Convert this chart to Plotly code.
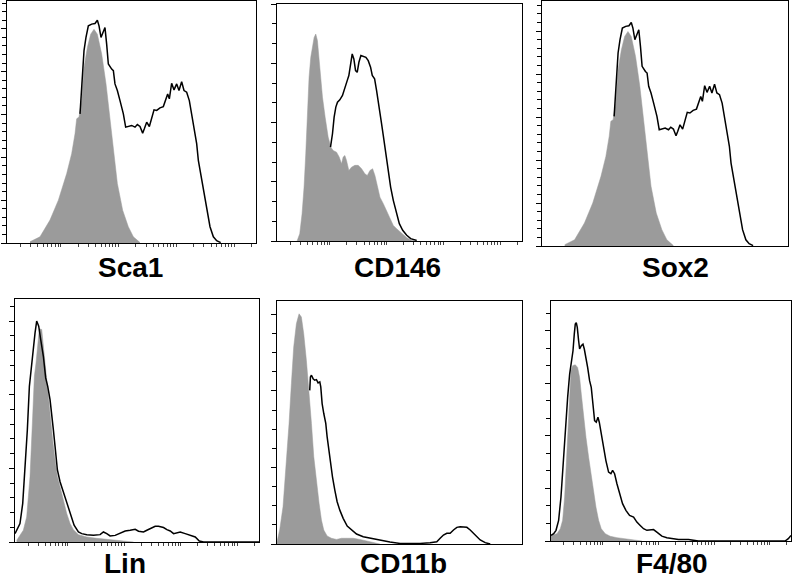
import plotly.graph_objects as go
import numpy as np

# ---------------- data (x in log10 fluorescence units, y = cell counts) ----------------
panel_labels = ["Sca1", "CD146", "Sox2", "Lin", "CD11b", "F4/80"]

sca1_iso_x = [1.468, 1.641, 1.814, 1.959, 2.103, 2.189, 2.247, 2.276, 2.316, 2.362, 2.403, 2.461, 2.518, 2.576,
              2.634, 2.709, 2.784, 2.853, 2.911, 2.980, 3.072, 3.170, 3.257, 3.372]
sca1_iso_y = [0.6, 2.9, 10.7, 20.0, 32.4, 41.7, 51.0, 58.0, 58.8, 66.5, 82.0, 91.3, 97.5, 99.8,
              97.5, 88.2, 74.3, 58.8, 43.3, 27.8, 15.3, 7.6, 2.9, 0.2]
sca1_x = [2.334, 2.362, 2.403, 2.437, 2.478, 2.536, 2.593, 2.634, 2.663, 2.697, 2.738, 2.766, 2.795, 2.824,
          2.882, 2.911, 2.939, 2.980, 3.026, 3.084, 3.124, 3.170, 3.228, 3.286, 3.326, 3.372, 3.418, 3.447,
          3.488, 3.534, 3.574, 3.615, 3.661, 3.718, 3.776, 3.817, 3.851, 3.880, 3.920, 3.961, 4.007, 4.047,
          4.093, 4.134, 4.180, 4.226, 4.267, 4.307, 4.353, 4.382, 4.411, 4.457, 4.497, 4.538, 4.584, 4.642,
          4.699, 4.769]
sca1_y = [60.3, 74.3, 89.8, 96.0, 101.4, 102.2, 102.5, 104.0, 101.4, 96.0, 98.3, 100.6, 92.9, 83.6,
          81.2, 80.5, 74.3, 71.2, 66.5, 60.3, 54.1, 54.4, 54.9, 54.1, 55.3, 54.4, 51.3, 53.3,
          56.4, 54.4, 58.8, 62.2, 61.9, 63.1, 63.7, 67.3, 69.6, 67.3, 74.6, 71.5, 74.3, 71.2,
          75.3, 71.2, 70.4, 66.5, 60.3, 54.9, 46.4, 38.6, 34.0, 26.2, 20.0, 13.8, 7.6, 2.9,
          1.1, 0.2]

cd146_iso_x = [1.423, 1.470, 1.511, 1.546, 1.576, 1.605, 1.634, 1.664, 1.693, 1.723, 1.752, 1.781, 1.823, 1.870,
               1.917, 1.970, 2.017, 2.058, 2.117, 2.164, 2.205, 2.234, 2.264, 2.293, 2.334, 2.381, 2.440, 2.499,
               2.558, 2.616, 2.658, 2.705, 2.752, 2.793, 2.834, 2.881, 2.940, 2.999, 3.057, 3.116, 3.175, 3.234,
               3.293, 3.352, 3.440, 3.528]
cd146_iso_y = [0.0, 3.7, 13.8, 27.3, 44.2, 66.1, 82.9, 93.0, 98.1, 103.1, 104.8, 101.5, 88.0, 72.8,
               62.7, 52.6, 47.5, 45.8, 45.0, 42.5, 39.1, 42.5, 43.3, 40.8, 35.7, 37.4, 38.3, 38.3,
               36.6, 34.0, 33.2, 35.7, 36.6, 33.2, 28.1, 22.2, 18.9, 15.5, 11.3, 7.9, 6.2, 4.6,
               2.9, 1.7, 0.3, 0.0]
cd146_x = [2.011, 2.046, 2.075, 2.105, 2.134, 2.175, 2.222, 2.264, 2.305, 2.334, 2.364, 2.393, 2.422, 2.452,
           2.481, 2.511, 2.546, 2.587, 2.634, 2.675, 2.716, 2.746, 2.787, 2.822, 2.852, 2.881, 2.910, 2.940,
           2.969, 2.999, 3.028, 3.069, 3.116, 3.163, 3.222, 3.281, 3.352, 3.422, 3.528]
cd146_y = [47.5, 54.3, 62.7, 67.8, 70.3, 71.5, 73.7, 77.0, 81.2, 83.8, 88.8, 94.7, 92.2, 86.3,
           85.4, 90.5, 93.9, 93.4, 93.0, 91.3, 88.0, 83.8, 82.1, 76.2, 71.1, 65.2, 59.3, 53.4,
           47.5, 40.8, 34.0, 27.3, 20.6, 14.7, 8.8, 5.4, 2.9, 1.2, 0.3]

sox2_iso_x = list(sca1_iso_x)
sox2_iso_y = list(sca1_iso_y)
sox2_x = list(sca1_x)
sox2_y = list(sca1_y)

lin_iso_x = [1.099, 1.158, 1.217, 1.276, 1.335, 1.377, 1.412, 1.441, 1.471, 1.500, 1.542, 1.571, 1.612, 1.660,
             1.701, 1.736, 1.778, 1.819, 1.866, 1.925, 1.984, 2.043, 2.102, 2.190, 2.338, 2.515, 2.750, 2.986,
             3.163]
lin_iso_y = [1.1, 4.5, 8.0, 17.0, 44.3, 80.7, 112.5, 121.6, 135.2, 144.8, 144.3, 133.0, 112.5, 96.6,
             80.7, 69.3, 55.7, 44.3, 37.5, 28.4, 19.3, 12.5, 8.4, 5.0, 3.4, 2.5, 1.4, 0.7,
             0.0]
lin_x = [1.070, 1.099, 1.158, 1.206, 1.247, 1.288, 1.324, 1.353, 1.394, 1.424, 1.453, 1.489, 1.524, 1.571,
         1.612, 1.648, 1.689, 1.719, 1.748, 1.778, 1.819, 1.866, 1.913, 1.954, 2.002, 2.055, 2.114, 2.190,
         2.249, 2.338, 2.456, 2.573, 2.632, 2.691, 2.750, 2.839, 2.927, 3.016, 3.104, 3.193, 3.252, 3.340,
         3.399, 3.487, 3.546, 3.605, 3.694, 3.753, 3.812, 3.871, 3.930, 3.989, 4.077, 4.165, 4.254, 4.325,
         4.401, 5.380]
lin_y = [5.7, 8.0, 12.5, 26.1, 48.9, 76.1, 105.7, 117.0, 130.7, 142.0, 150.0, 146.6, 137.5, 126.1,
         111.4, 105.7, 96.6, 87.5, 76.1, 64.8, 48.9, 40.9, 35.2, 30.7, 23.9, 17.0, 11.4, 6.8,
         5.7, 5.0, 4.5, 5.0, 6.8, 5.7, 4.1, 4.5, 6.1, 7.5, 8.0, 8.6, 7.3, 6.8,
         8.0, 9.5, 10.7, 10.7, 9.8, 8.4, 7.5, 5.7, 6.1, 6.8, 5.7, 4.5, 3.4, 0.7,
         0.0, 0.0]

cd11b_iso_x = [1.070, 1.117, 1.176, 1.235, 1.282, 1.323, 1.364, 1.411, 1.458, 1.499, 1.540, 1.587, 1.634, 1.676,
               1.717, 1.764, 1.811, 1.852, 1.893, 1.952, 2.028, 2.117, 2.205, 2.293, 2.411, 2.528, 2.646, 2.763,
               2.881]
cd11b_iso_y = [1.2, 7.3, 19.5, 42.1, 63.0, 83.8, 103.0, 115.1, 120.3, 118.6, 109.9, 96.0, 80.3, 63.0,
               45.6, 31.7, 21.2, 12.5, 7.3, 4.2, 3.0, 2.4, 3.0, 3.0, 3.0, 2.4, 1.7, 0.7,
               0.0]
cd11b_x = [1.646, 1.658, 1.676, 1.705, 1.734, 1.764, 1.793, 1.823, 1.840, 1.864, 1.893, 1.928, 1.952, 1.981,
           2.011, 2.046, 2.087, 2.128, 2.175, 2.234, 2.305, 2.381, 2.469, 2.587, 2.705, 2.881, 3.057, 3.234,
           3.410, 3.587, 3.763, 3.881, 3.940, 3.998, 4.057, 4.116, 4.175, 4.234, 4.292, 4.351, 4.410, 4.469,
           4.528, 4.587, 4.645, 4.733, 4.821]
cd11b_y = [80.3, 87.3, 88.2, 86.4, 85.6, 85.9, 84.2, 84.7, 82.1, 73.4, 68.2, 63.0, 56.0, 49.0,
           42.1, 35.1, 28.2, 22.1, 17.7, 13.4, 9.4, 7.3, 5.2, 3.8, 3.0, 2.1, 1.0, 0.3,
           0.3, 0.3, 0.7, 1.2, 3.0, 4.7, 5.6, 5.6, 7.3, 8.7, 9.0, 9.0, 8.7, 7.3,
           5.6, 3.8, 2.1, 0.7, 0.0]

f480_iso_x = [1.070, 1.178, 1.237, 1.279, 1.315, 1.345, 1.375, 1.399, 1.429, 1.459, 1.506, 1.548, 1.584, 1.614,
              1.656, 1.698, 1.746, 1.793, 1.835, 1.877, 1.925, 1.973, 2.044, 2.134, 2.254, 2.403, 2.523, 2.612,
              2.702]
f480_iso_y = [3.2, 4.2, 7.0, 11.8, 25.1, 44.1, 66.8, 82.0, 97.2, 100.1, 100.6, 99.1, 93.4, 83.9,
              70.6, 59.2, 47.8, 36.5, 27.0, 19.4, 11.8, 7.0, 4.2, 2.7, 1.9, 1.3, 0.9, 0.4,
              0.0]
f480_x = [1.070, 1.118, 1.160, 1.207, 1.249, 1.285, 1.327, 1.369, 1.405, 1.435, 1.465, 1.488, 1.506, 1.524,
          1.542, 1.566, 1.584, 1.614, 1.644, 1.668, 1.698, 1.728, 1.763, 1.793, 1.823, 1.853, 1.883, 1.913,
          1.937, 1.973, 2.015, 2.056, 2.104, 2.146, 2.176, 2.212, 2.254, 2.301, 2.355, 2.415, 2.481, 2.553,
          2.612, 2.672, 2.732, 2.792, 2.851, 2.911, 2.971, 3.061, 3.150, 3.240, 3.360, 3.539, 3.718, 5.273,
          5.332, 5.380]
f480_y = [3.2, 4.2, 6.1, 11.8, 25.1, 44.1, 63.0, 82.0, 95.3, 102.0, 108.6, 118.1, 123.8, 124.7,
          121.9, 114.3, 109.6, 111.5, 112.4, 109.6, 104.8, 99.1, 91.5, 87.7, 78.2, 68.7, 67.8, 70.6,
          67.8, 61.1, 53.5, 45.9, 39.3, 38.4, 40.3, 38.4, 32.7, 27.0, 21.3, 17.5, 14.6, 13.7,
          10.8, 8.9, 7.0, 6.1, 6.1, 6.5, 5.1, 2.8, 1.9, 1.3, 0.9, 0.8, 0.0, 0.0,
          1.3, 3.2]

isotype_x = [sca1_iso_x, cd146_iso_x, sox2_iso_x, lin_iso_x, cd11b_iso_x, f480_iso_x]
isotype_y = [sca1_iso_y, cd146_iso_y, sox2_iso_y, lin_iso_y, cd11b_iso_y, f480_iso_y]
stain_x = [sca1_x, cd146_x, sox2_x, lin_x, cd11b_x, f480_x]
stain_y = [sca1_y, cd146_y, sox2_y, lin_y, cd11b_y, f480_y]

# ---------------- layout configuration ----------------
W, H = 792, 578
# panel boxes in pixels: (left, right, top, bottom)
boxes = [(7, 256, 1, 243), (277, 522, 4, 241), (542, 788, 1, 246),
         (15, 259, 299, 542), (277, 522, 301, 544), (551, 791, 301, 541)]
y_max = [113, 120, 114, 165, 127, 137]
y_dtick = [20, 30, 20, 50, 40, 30]
y_minor = [4, 10, 4, 10, 10, 10]
show_xticks = [True, True, False, True, False, True]
label_pos = [(130, 267), (397, 267), (675, 267), (125, 563), (403, 563), (672, 563)]

log_range = [1.07, 5.38]
x_tickvals = [m * 10 ** k for k in range(1, 6) for m in range(1, 10)
              if log_range[0] <= np.log10(m * 10 ** k) <= log_range[1]]

fig = go.Figure()
layout = dict(width=W, height=H, margin=dict(l=0, r=0, t=0, b=0),
              paper_bgcolor="white", plot_bgcolor="white", showlegend=False)
annotations = []

for i in range(6):
    sfx = "" if i == 0 else str(i + 1)
    xa, ya = "x" + sfx, "y" + sfx
    fig.add_trace(go.Scatter(x=10 ** np.array(isotype_x[i]), y=isotype_y[i], xaxis=xa, yaxis=ya,
                             mode="lines", fill="tozeroy", fillcolor="#9b9b9b",
                             line=dict(color="#9b9b9b", width=0.5), hoverinfo="skip"))
    fig.add_trace(go.Scatter(x=10 ** np.array(stain_x[i]), y=stain_y[i], xaxis=xa, yaxis=ya,
                             mode="lines", line=dict(color="black", width=1.5), hoverinfo="skip"))
    L, R, T, B = boxes[i]
    layout["xaxis" + sfx] = dict(
        domain=[L / W, R / W], anchor=ya, type="log", range=log_range,
        showgrid=False, zeroline=False, showline=True, mirror=True, linecolor="black", linewidth=1,
        showticklabels=False, ticks="outside" if show_xticks[i] else "", ticklen=3, tickwidth=1,
        tickcolor="#444", tickmode="array", tickvals=x_tickvals if show_xticks[i] else [])
    layout["yaxis" + sfx] = dict(
        domain=[1 - B / H, 1 - T / H], anchor=xa, range=[0, y_max[i]],
        showgrid=False, zeroline=False, showline=True, mirror=True, linecolor="black", linewidth=1,
        showticklabels=False, ticks="outside", ticklen=5, tickwidth=1, tickcolor="black",
        dtick=y_dtick[i], tick0=0,
        minor=dict(dtick=y_minor[i], tick0=0, ticks="outside", ticklen=4, tickcolor="black", tickwidth=1))
    lx, ly = label_pos[i]
    annotations.append(dict(text="<b>" + panel_labels[i] + "</b>", xref="paper", yref="paper",
                            x=lx / W, y=1 - ly / H, xanchor="center", yanchor="middle", showarrow=False,
                            font=dict(family="Liberation Sans, Arial, sans-serif", size=28, color="black")))

layout["annotations"] = annotations
fig.update_layout(**layout)
fig.write_html("out.html", config={"displayModeBar": False, "staticPlot": True},
               post_script="document.body.style.margin='0';document.body.style.overflow='hidden';")
